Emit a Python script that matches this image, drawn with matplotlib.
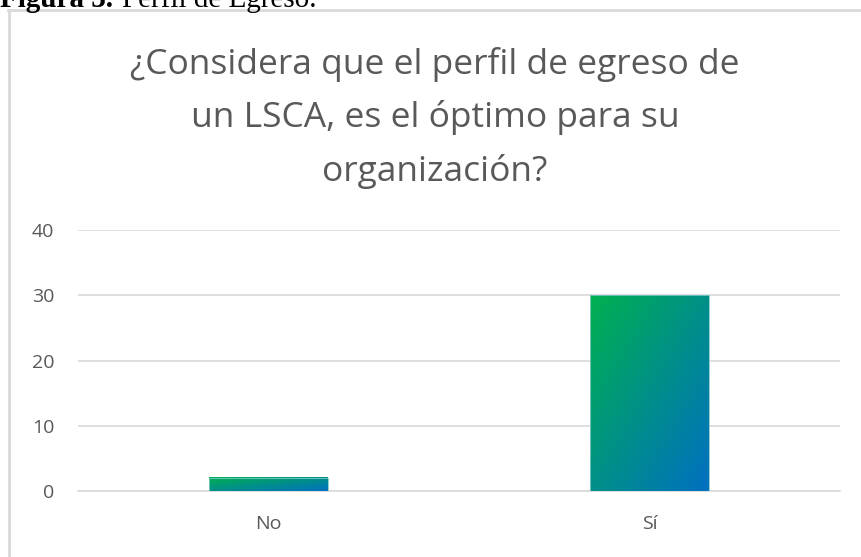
import numpy as np
import matplotlib.pyplot as plt
from matplotlib.patches import Rectangle
from matplotlib.lines import Line2D

categories = ['No', 'Sí']
values = [2, 30]
yticks = [0, 10, 20, 30, 40]
title = '¿Considera que el perfil de egreso de\nun LSCA, es el óptimo para su\norganización?'

gray_text = '#595959'
grid_col = '#d9d9d9'

fig = plt.figure(figsize=(8.62, 5.57), dpi=100)
fig.patch.set_facecolor('white')
ax = fig.add_axes([78/862, 1 - 491/557, (840-78)/862, (491-230)/557])

x = np.arange(len(categories))
width = 0.31

# diagonal gradient (green top-left -> blue bottom-right), like the Excel fill
green = np.array([0, 176, 80]) / 255
blue = np.array([0, 112, 192]) / 255
u = np.linspace(0, 1, 100)
uu, vv = np.meshgrid(u, u)  # vv: 0 at top row
t = (uu + vv) / 2
grad = green[None, None, :] * (1 - t[..., None]) + blue[None, None, :] * t[..., None]

for xi, val in zip(x, values):
    x0 = xi - width / 2
    ax.imshow(grad, extent=[x0, x0 + width, 0, val], origin='upper',
              aspect='auto', zorder=3, interpolation='bilinear')
    ax.add_patch(Rectangle((x0, 0), width, val, fill=False,
                           edgecolor='#7fc8c8', lw=0.6, zorder=4))

ax.set_aspect('auto')
ax.set_xlim(-0.5, len(categories) - 0.5)
ax.set_ylim(0, 40)

ax.set_yticks(yticks)
ax.set_xticks(x)
ax.set_xticklabels(categories)
ax.yaxis.grid(True, color=grid_col, lw=1.2, zorder=0)
ax.set_axisbelow(True)
for s in ['top', 'right', 'left']:
    ax.spines[s].set_visible(False)
ax.spines['bottom'].set_color(grid_col)
ax.spines['bottom'].set_linewidth(1.2)
ax.tick_params(axis='both', length=0, colors=gray_text, labelsize=14)
ax.tick_params(axis='y', pad=17)
ax.tick_params(axis='x', pad=17)
for lab in ax.get_xticklabels() + ax.get_yticklabels():
    lab.set_fontfamily('Open Sans')

fig.text(435/862, 1 - 47/557, title, ha='center', va='top', fontsize=25.5,
         color=gray_text, family='Open Sans', linespacing=1.68)

# chart frame (left and top edges only visible in the crop)
fig.add_artist(Line2D([9/862, 9/862], [0, 1 - 10/557], color=grid_col, lw=2))
fig.add_artist(Line2D([8/862, 1], [1 - 10/557, 1 - 10/557], color=grid_col, lw=2))

# caption cut off at the top of the image
fig.text(0, 1 - 7/557, 'Figura 3.', ha='left', va='baseline', fontsize=21,
         fontweight='bold', family='Liberation Serif')
fig.text(122/862, 1 - 7/557, 'Perfil de Egreso.', ha='left', va='baseline',
         fontsize=21, family='Liberation Serif')

fig.savefig('out.png', dpi=100, facecolor='white')
